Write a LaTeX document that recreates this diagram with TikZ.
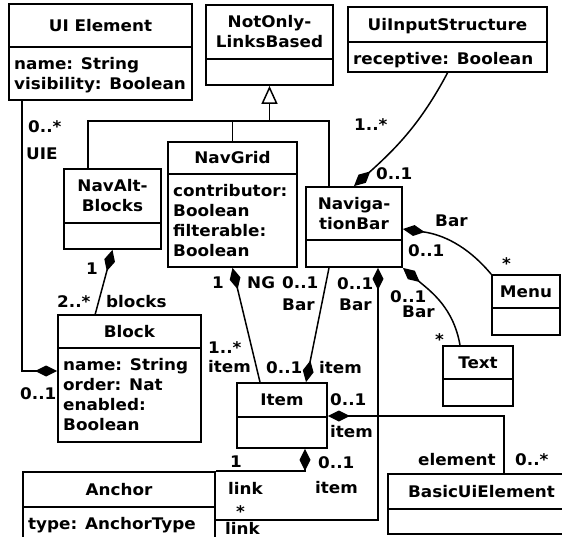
\documentclass[tikz,border=0pt]{standalone}
\usepackage{fontspec}
\setmainfont{DejaVu Sans}[FakeStretch=1.05]
\usetikzlibrary{arrows.meta,fit,calc}
\newcommand\umlbox[8]{%
  \node[clsbox, fit={(#2,#3) (#4,#6)}] (#1) {};
  \draw[clsline] (#2,#5) -- (#4,#5);
  \node[hdr] (#1-h) at ({(#2+#4)/2},{(#3+#5)/2}) {#7};
  \node[attr] (#1-a) at ({#2+5},{#5+9}) {\rule{0pt}{13pt}#8};
}
\begin{document}
\begin{tikzpicture}[x=1pt,y=-1pt,
  every node/.style={font=\bfseries\fontsize{16}{20}\selectfont, inner sep=0pt},
  clsbox/.style={draw, line width=1.8pt, inner sep=0pt},
  clsline/.style={line width=1.8pt},
  hdr/.style={align=center},
  attr/.style={anchor=north west, align=left},
  lab/.style={anchor=base west},
  conn/.style={line width=1.5pt},
  dia/.style={{Diamond[length=22pt,width=11pt]}-},
  diaend/.style={-{Diamond[length=22pt,width=11pt]}},
]
\useasboundingbox (0,0) rectangle (562,537);

% classes
\umlbox{uie}{9}{4}{192}{47}{100}{UI Element}{name: String\\visibility: Boolean}
\umlbox{notonly}{206}{5}{333}{59}{85}{NotOnly-\\LinksBased}{}
\umlbox{uiinput}{348}{7}{547}{42}{72}{UiIn\smash{p}utStructure}{receptive: Boolean}
\umlbox{navalt}{64}{169}{161}{223}{249}{NavAlt-\\Blocks}{}
\umlbox{navgrid}{168}{142}{297}{174}{267}{NavGrid}{contributor:\\Boolean\\filterable:\\Boolean}
\umlbox{navbar}{306}{187}{402}{240}{267}{Naviga-\\tionBar}{}
\umlbox{menu}{492}{275}{560}{308}{335}{Menu}{}
\umlbox{txt}{443}{346}{513}{379}{406}{Text}{}
\umlbox{block}{58}{315}{201}{348}{442}{Block}{name: String\\order: Nat\\enabled:\\Boolean}
\umlbox{item}{237}{383}{327}{417}{448}{Item}{}
\umlbox{anch}{23}{472}{215}{507}{550}{Anchor}{type: AnchorType}
\umlbox{basic}{388}{474}{575}{509}{534}{BasicUiElement}{}

% generalization
\coordinate (gL) at (88,121);
\coordinate (gR) at (329,121);
\coordinate (gM) at (269.5,121);
\draw[conn] (gL |- navalt.north) -- (gL) -- (gR) -- (gR |- navbar.north);
\draw[conn] (navgrid.north) -- (navgrid.north |- gM);
\draw[conn, -{Triangle[open, length=18pt, width=16pt]}] (notonly.south |- gM) -- (notonly.south);

% associations
\coordinate (u1) at (22,371);
\draw[conn, diaend] (uie.south -| u1) -- (u1) -- (u1 -| block.west);
\coordinate (b1) at (95,315);
\draw[conn, dia] (navalt.south) -- (b1);
\draw[conn, diaend] (uiinput.south) to[out=-118, in=42] (navbar.north);
\draw[conn, dia] (navbar.east |- 0,229) to[out=-8, in=130] (menu.north west);
\draw[conn, dia] (navbar.south east) to[out=-40, in=100] (txt.north -| 460,0);
\draw[conn, dia] (navgrid.south) -- (item.north -| 260,0);
\draw[conn, diaend] (navbar.south -| gR) -- ([xshift=24pt]item.north);
\coordinate (a1) at (378,520);
\draw[conn, dia] (navbar.south -| a1) -- (a1) -- (a1 -| anch.east);
\draw[conn, dia] ([xshift=23pt]item.south) |- (anch.north east);
\coordinate (e1) at (504,416);
\draw[conn, dia] (item.east |- e1) -- (e1) -- (e1 |- basic.north);

% labels
\node[lab] (l1) at (28,133) {0..*};
\node[lab] (l2) at (26,160) {UIE};
\node[lab] (l3) at (20,399) {0..1};
\node[lab] (l4) at (86,275) {1};
\node[lab] (l5) at (57,307) {2..*};
\node[lab] (l6) at (106,308) {blocks};
\node[lab] (l7) at (354,131) {1..*};
\node[lab] (l8) at (376,180) {0..1};
\node[lab] (l9) at (435,227) {Bar};
\node[lab] (l10) at (408,257) {0..1};
\node[lab] (l11) at (502,270) {*};
\node[lab] (l12) at (390,302) {0..1};
\node[lab] (l13) at (402,317) {Bar};
\node[lab] (l14) at (435,345) {*};
\node[lab] (l15) at (212,288) {1};
\node[lab] (l16) at (247,288) {NG};
\node[lab] (l17) at (282,288) {0..1};
\node[lab] (l18) at (282,310) {Bar};
\node[lab] (l19) at (337,290) {0..1};
\node[lab] (l20) at (339,310) {Bar};
\node[lab] (l21) at (208,353) {1..*};
\node[lab] (l22) at (208,372) {item};
\node[lab] (l23) at (266,373) {0..1};
\node[lab] (l24) at (319,373) {item};
\node[lab] (l25) at (330,405) {0..1};
\node[lab] (l26) at (330,437) {item};
\node[lab] (l27) at (230,467) {1};
\node[lab] (l28) at (318,468) {0..1};
\node[lab] (l29) at (315,493) {item};
\node[lab] (l30) at (228,494) {link};
\node[lab] (l31) at (236,517) {*};
\node[lab] (l32) at (225,534.5) {link};
\node[lab] (l33) at (418,465) {element};
\node[lab] (l34) at (515,465) {0..*};
\end{tikzpicture}
\end{document}
